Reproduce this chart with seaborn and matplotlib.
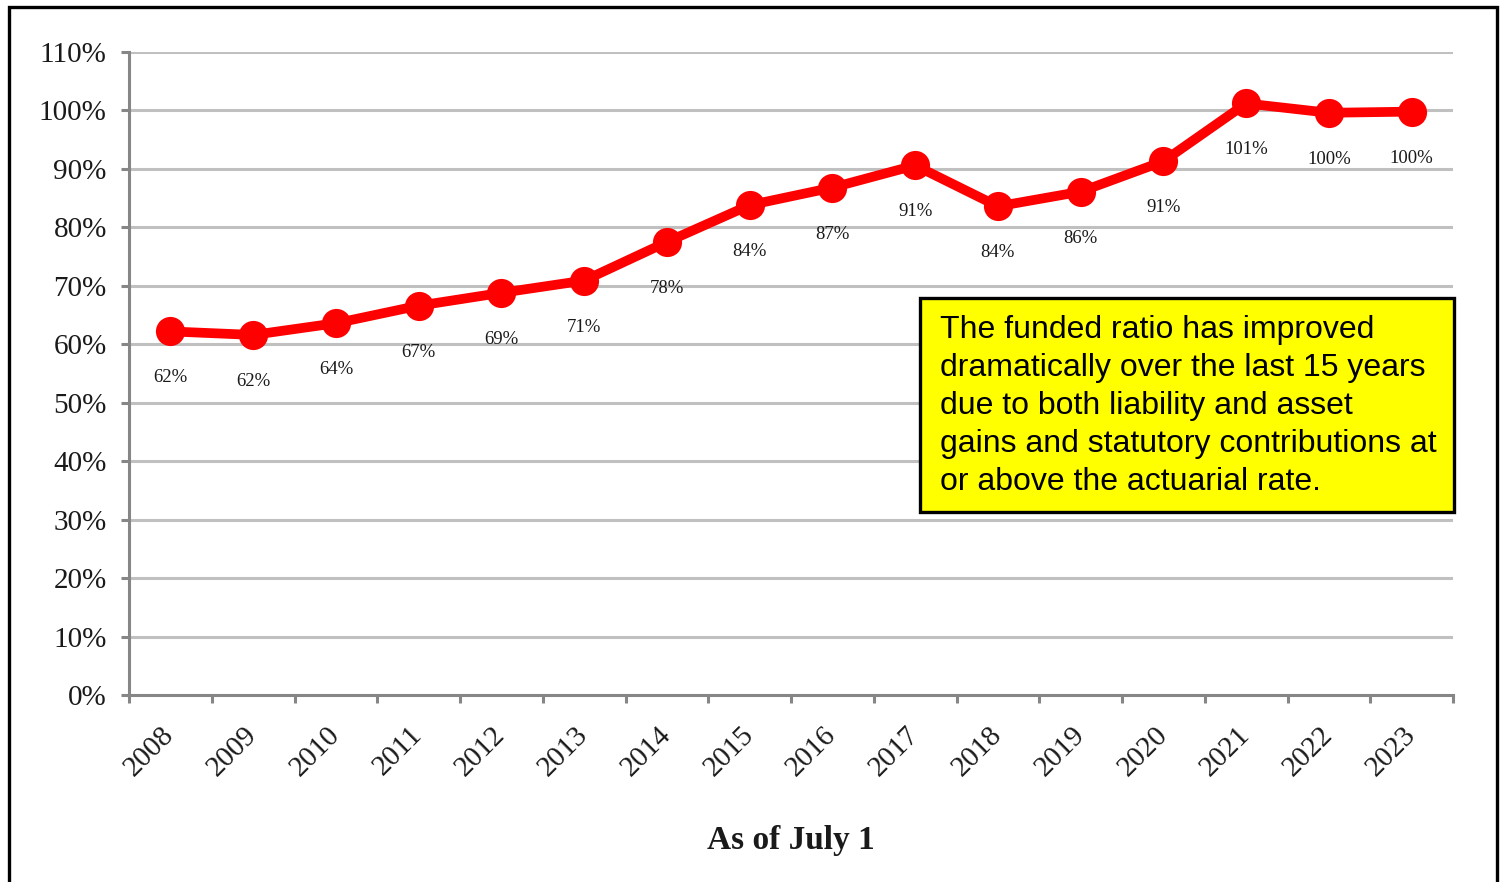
import numpy as np
import pandas as pd
import matplotlib
matplotlib.use("Agg")
import matplotlib.pyplot as plt
import matplotlib.patches as mpatches
from matplotlib.ticker import FixedLocator, PercentFormatter
import seaborn as sns

# Funded ratio by valuation year (as of July 1), in percent
years = ["2008", "2009", "2010", "2011", "2012", "2013", "2014", "2015",
         "2016", "2017", "2018", "2019", "2020", "2021", "2022", "2023"]
funded_ratio = [62.2, 61.6, 63.6, 66.6, 68.8, 70.9, 77.5, 83.8,
                86.8, 90.6, 83.6, 86.1, 91.3, 101.2, 99.6, 99.8]

y_ticks = [0, 10, 20, 30, 40, 50, 60, 70, 80, 90, 100, 110]
x_title = "As of July 1"
note = ("The funded ratio has improved\n"
        "dramatically over the last 15 years\n"
        "due to both liability and asset\n"
        "gains and statutory contributions at\n"
        "or above the actuarial rate.")

df = pd.DataFrame({"pos": np.arange(len(years)), "year": years, "ratio": funded_ratio})

sns.set_theme(style="white")
plt.rcParams["font.family"] = ["Liberation Serif", "DejaVu Serif"]

W, H = 1500, 882
fig = plt.figure(figsize=(W / 100, H / 100), dpi=100)
ax = fig.add_axes([129 / W, 1 - 695 / H, (1453 - 129) / W, (695 - 52) / H])

grid_c = "#C0C0C0"
spine_c = "#868686"

# horizontal gridlines
for t in y_ticks[1:]:
    ax.axhline(t, color=grid_c, lw=2.2, zorder=0)

sns.lineplot(data=df, x="pos", y="ratio", ax=ax, color="#FF0000", linewidth=7,
             marker="o", markersize=21, markeredgewidth=0, zorder=3)

# value labels under each point
for x, v in zip(df["pos"], df["ratio"]):
    ax.annotate(f"{v:.0f}%", (x, v), xytext=(0, -33.5), textcoords="offset points",
                ha="center", va="center", fontsize=13.5, color="#1a1a1a")

ax.set_xlim(-0.5, len(years) - 0.5)
ax.set_ylim(0, 110)
ax.yaxis.set_major_locator(FixedLocator(y_ticks))
ax.yaxis.set_major_formatter(PercentFormatter(decimals=0))

# category boundaries as tick marks, year names centred between them
ax.xaxis.set_major_locator(FixedLocator(np.arange(-0.5, len(years), 1.0)))
ax.xaxis.set_major_formatter(plt.NullFormatter())
ax.set_xticks(df["pos"].tolist(), minor=True)
ax.set_xticklabels(years, minor=True, rotation=45, ha="right", va="center",
                   rotation_mode="anchor", fontsize=21, color="#1a1a1a")
ax.tick_params(axis="x", which="minor", length=0, pad=26)
ax.tick_params(axis="x", which="major", length=6, width=2.2, color=spine_c,
               direction="out", bottom=True)
ax.tick_params(axis="y", length=6, width=2.2, color=spine_c, direction="out",
               left=True, labelsize=21, labelcolor="#1a1a1a", pad=10)

for side in ["top", "right"]:
    ax.spines[side].set_visible(False)
for side in ["left", "bottom"]:
    ax.spines[side].set_color(spine_c)
    ax.spines[side].set_linewidth(2.2)

ax.set_xlabel(x_title, fontsize=24, fontweight="bold", color="#1a1a1a")
ax.xaxis.label.set_va("center")
ax.xaxis.set_label_coords(0.5, (695 - 841) / (695 - 52))
ax.set_ylabel("")

# callout box
box = mpatches.Rectangle((920 / W, 1 - 512 / H), (1454 - 920) / W, (512 - 298) / H,
                         transform=fig.transFigure, facecolor="#FFFF00",
                         edgecolor="black", linewidth=2.4, zorder=5)
fig.patches.append(box)
fig.text(940 / W, 1 - 315 / H, note, ha="left", va="top", fontsize=23,
         family=["Liberation Sans", "DejaVu Sans"], linespacing=1.35,
         color="black", zorder=6)

# outer frame
frame = mpatches.Rectangle((9 / W, -0.02), (1497 - 9) / W, 1.02 - 6.5 / H,
                           transform=fig.transFigure, facecolor="none",
                           edgecolor="black", linewidth=2.4, zorder=10)
fig.patches.append(frame)

fig.savefig("out.png", dpi=100, facecolor="white")
